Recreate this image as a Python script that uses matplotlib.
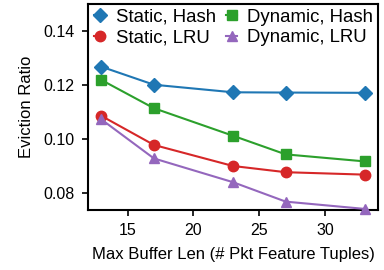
import matplotlib
matplotlib.use('Agg')
import matplotlib.pyplot as plt

plt.rcParams['font.family'] = ['Liberation Sans', 'DejaVu Sans']

buf_len = [13, 17, 23, 27, 33]
static_hash = [0.1268, 0.1201, 0.1173, 0.1172, 0.1171]
static_lru = [0.1086, 0.0978, 0.0900, 0.0877, 0.0868]
dynamic_hash = [0.1219, 0.1114, 0.1012, 0.0943, 0.0917]
dynamic_lru = [0.1073, 0.0928, 0.0840, 0.0768, 0.0741]

fig = plt.figure(figsize=(3.84, 2.70), dpi=100)
ax = fig.add_axes([88 / 384, 60 / 270, 290 / 384, 206 / 270])

series = [
    (static_hash, 'Static, Hash', '#1f77b4', 'D'),
    (static_lru, 'Static, LRU', '#d62728', 'o'),
    (dynamic_hash, 'Dynamic, Hash', '#2ca02c', 's'),
    (dynamic_lru, 'Dynamic, LRU', '#9467bd', '^'),
]
for vals, label, color, mk in series:
    ax.plot(buf_len, vals, color=color, marker=mk, markersize=7.5, linewidth=1.5,
            label=label, clip_on=False, zorder=3)

ax.set_xlim(12, 34)
ax.set_ylim(0.0737, 0.15)
ax.set_xticks([15, 20, 25, 30])
ax.set_yticks([0.08, 0.10, 0.12, 0.14])
ax.set_yticklabels(['0.08', '0.10', '0.12', '0.14'])
ax.tick_params(labelsize=11.5, width=1.2, length=4.5, pad=5)
for s in ax.spines.values():
    s.set_linewidth(1.5)
ax.set_xlabel('Max Buffer Len (# Pkt Feature Tuples)', fontsize=12, labelpad=6)
ax.set_ylabel('Eviction Ratio', fontsize=12, labelpad=7)

ax.legend(ncol=2, loc='upper right', frameon=False, fontsize=13.4,
          handlelength=0.6, handletextpad=0.55, columnspacing=0.55,
          labelspacing=0.2, borderaxespad=0.1, borderpad=0.15)

fig.savefig('out.png', dpi=100)
